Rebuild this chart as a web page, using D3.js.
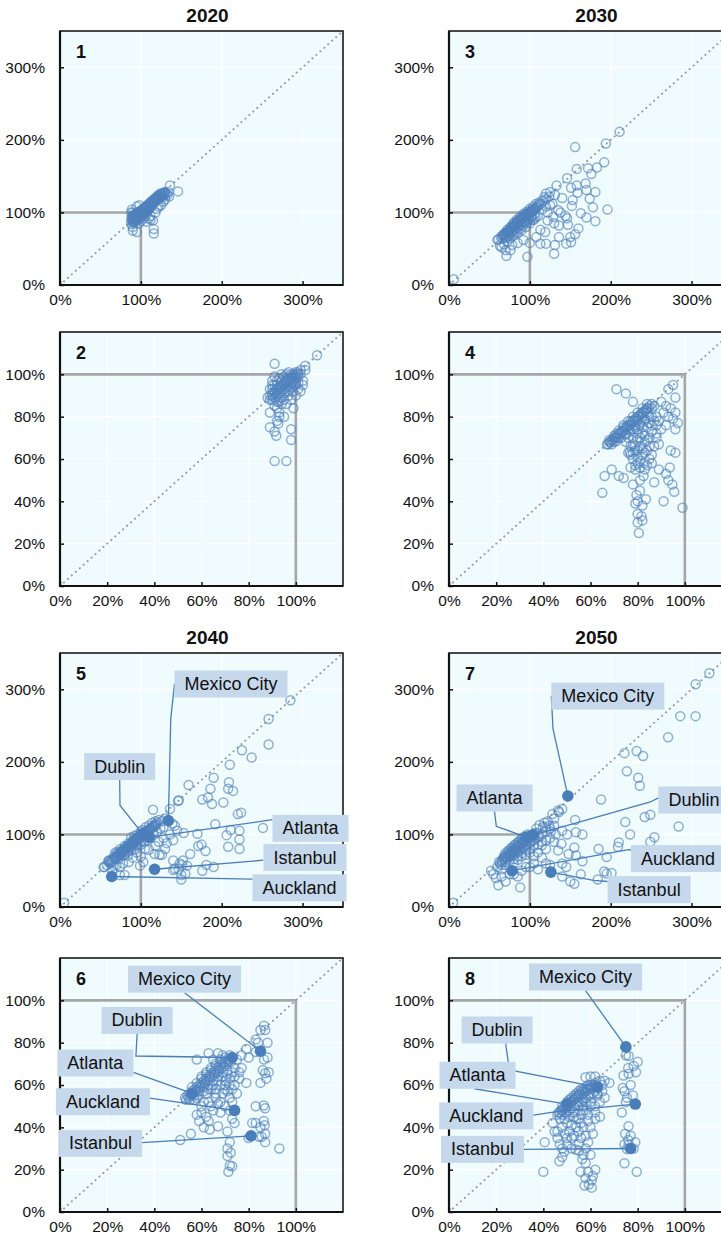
<!DOCTYPE html>
<html>
<head>
<meta charset="utf-8">
<script src="https://cdn.jsdelivr.net/npm/d3@7"></script>
<style>
  html, body { margin: 0; padding: 0; background: #fff; }
  svg { display: block; }
  text { font-family: "Liberation Sans Narrow", "Arial Narrow", "Liberation Sans", sans-serif; fill: #111; }
</style>
</head>
<body>
<div id="chart"></div>
<script>
// ---- Scale ticks -------------------------------------------------------
const ticksWide = [0, 100, 200, 300];          // panels on the 0–350 % range
const ticksNarrow = [0, 20, 40, 60, 80, 100];  // panels on the 0–120 % range

// ---- Highlighted cities --------------------------------------------------
const cityNames = ["Mexico City", "Dublin", "Atlanta", "Istanbul", "Auckland"];

// ---- Scatter values [x %, y %] -----------------------------------------
const pts2020Wide = [
  [88,90],[89,95],[90,92],[90,100],[91,88],[92,94],[93,97],[94,91],[95,99],[95,93],[96,96],[97,101],
  [97,94],[98,98],[99,95],[100,102],[100,97],[101,99],[102,104],[102,96],[103,101],[104,106],[104,99],
  [105,103],[106,108],[106,100],[107,105],[108,110],[108,102],[109,107],[110,112],[110,104],[111,109],
  [112,114],[113,111],[114,116],[115,112],[116,118],[117,114],[118,120],[119,117],[120,122],[121,118],
  [122,124],[123,120],[124,126],[125,122],[126,125],[127,121],[128,127],[129,124],[130,128],[131,126],
  [133,124],[134,128],[136,137],[146,129],[135,122],[88,84],[90,80],[92,86],[90,75],[95,73],[98,85],
  [100,88],[103,92],[105,95],[107,87],[110,92],[112,90],[115,89],[116,77],[116,71],[112,95],[118,100],
  [120,105],[122,108],[125,110],[128,115],[130,118],[88,100],[89,104],[95,108],[98,110],
  [89,92],[90,89],[91,94],[91,97],[92,91],[93,89],[93,95],[94,98],[95,91],[96,99],[96,93],[97,97],
  [98,95],[98,101],[99,99],[99,93],[100,100],[101,96],[101,103],[102,98],[103,105],[103,99],[104,102],
  [105,100],[105,106],[106,103],[107,108],[107,101],[108,106],[109,104],[109,110],[110,108],[111,106],
  [111,112],[112,110],[113,108],[113,114],[114,112],[115,115],[116,114],[117,117],[118,116],[119,120],
  [120,118],[121,121],[122,119],[123,123],[124,121],[125,125],[126,123],[127,126],[129,127],[90,86],
  [92,88],[94,89],[96,90],[98,92]
];
const pts2020Narrow = [
  [88,89],[89,90],[90,91],[90,88],[91,92],[91,89],[92,93],[92,90],[93,94],[93,91],[94,95],[94,92],
  [95,96],[95,93],[96,97],[96,94],[97,98],[97,95],[98,99],[98,96],[99,100],[99,97],[100,100],[100,98],
  [101,101],[101,99],[102,102],[102,100],[90,95],[92,97],[94,100],[96,100],[91,85],[93,87],[95,88],
  [97,90],[99,92],[100,95],[101,93],[92,84],[94,86],[96,86],[98,88],[89,93],[95,99],[97,101],[103,97],
  [101,96],[100,90],[93,82],[92,78],[95,80],[109,109],[104,104],[104,102],[91,105],[102,92],[99,84],
  [89,82],[89,75],[91,73],[91.7,71],[92.5,76.7],[93,80],[98,74],[98,69],[91,59],[96,59],[91,99],
  [90,97],[103,95],[97,92],
  [89,88],[90,90],[91,91],[92,92],[93,93],[94,94],[95,95],[96,96],[97,97],[98,98],[99,99],[100,99],
  [101,100],[90,93],[92,95],[94,97],[96,98],[98,100],[93,89],[95,91],[97,93],[99,95],[92,87],[94,89],
  [96,92],[98,94],[100,96],[91,95],[93,98],[100,101]
];
const pts2030Wide = [
  [6,8],[60,62],[66,68],[68,70],[70,72],[72,73],[74,75],[76,78],[78,80],[80,82],[82,84],[84,86],[86,88],
  [88,90],[90,92],[92,93],[94,95],[96,97],[98,99],[100,100],[102,102],[104,103],[106,105],[108,107],
  [110,110],[112,111],[114,112],[70,68],[74,70],[78,74],[82,78],[86,82],[90,86],[94,88],[98,92],
  [102,95],[106,98],[80,86],[84,90],[88,94],[92,98],[96,101],[100,105],[104,108],[108,112],[112,114],
  [116,116],[120,118],[118,121],[124,122],[115,104],[120,108],[125,110],[128,112],[122,100],[110,95],
  [105,90],[100,85],[95,80],[90,76],[85,72],[80,68],[75,64],[72,60],[68,56],[65,52],[70,48],[78,55],
  [85,58],[92,62],[100,58],[108,66],[113,57],[120,57],[113,76],[119,73],[122,89],[129,94],[135,103],
  [136,66],[131,55],[130,43],[97,39],[71,40],[76,48],[63,54],[61,63],[136,82],[146,92],[144,95],
  [147,83],[156,70],[150,66],[145,57],[151,59],[152,109],[163,99],[170,93],[181,88],[178,107],
  [196,104],[174,119],[153,117],[131,124],[120,126],[133,137],[146,147],[151,134],[158,137],[169,140],
  [181,128],[170,131],[159,127],[158,160],[172,161],[176,153],[183,162],[192,169],[156,190],[194,195],
  [211,211],[125,128],[140,120],[138,100],[130,85],[160,78],
  [64,66],[67,69],[69,71],[71,72],[73,74],[75,76],[77,78],[79,80],[81,82],[83,84],[85,86],[87,88],
  [89,90],[91,91],[93,93],[95,95],[97,97],[99,98],[101,100],[103,101],[105,103],[107,105],[109,107],
  [66,64],[69,66],[72,68],[75,71],[78,73],[81,76],[84,79],[87,82],[90,84],[93,86],[96,89],[99,91],
  [102,93],[72,76],[76,80],[80,84],[84,88],[88,92],[92,96],[96,99],[100,102],[104,105],[70,65],[74,67],
  [79,70],[83,73],[88,78],[92,82],[97,86],[103,90],[107,93]
];
const pts2030Narrow = [
  [67,67],[68,68],[69,69],[70,70],[71,70],[71,72],[72,72],[73,73],[74,73],[74,75],[75,75],[76,76],
  [77,76],[77,78],[78,78],[79,79],[80,80],[80,78],[81,81],[82,82],[82,80],[83,83],[84,84],[85,85],
  [84,82],[86,84],[72,70],[76,74],[79,76],[83,79],[70,68],[75,72],[78,74],[81,77],
  [95,95],[93,93],[71,93],[75,91],[78,87],[96,89],[92,85],[96,82],[93,80],[97,77],[96,74],[90,87],
  [88,80],[91,82],[94,84],[89,78],[92,76],[95,79],[87,85],[86,80],
  [80,74],[82,72],[84,75],[86,73],[88,72],[85,70],[83,68],[81,66],[79,64],[77,62],[76,63],[78,60],
  [80,61],[82,62],[84,64],[86,62],[83,58],[81,56],[79,57],[85,60],[87,66],[89,67],[94,64],[96,63],
  [77,56],[80,69],[78,67],[76,70],
  [69,55],[66,52],[65,44],[72,52],[74,51],[78,48],[81,50],[82.5,52],[81,45],[79.5,43],[79,39],[82,38],
  [83.5,41],[80,34],[81.6,33],[80,30],[82,31],[80.5,25],[87,49],[89,55],[92,53],[93,50],[94.7,48],
  [95.5,44.5],[93.6,56],[91,40],[99,37],[76.7,63.4],[80,40],
  [67.5,67],[68.5,68],[69.5,69],[70.5,70],[71.5,71],[72.5,72],[73.5,73],[74.5,74],[75.5,75],[76.5,76],
  [77.5,77],[78.5,78],[79.5,79],[80.5,80],[81.5,81],[82.5,82],[83.5,83],[84.5,84],[69,67],[71,68.5],
  [73,70],[75,71.5],[77,73],[79,75],[81,76],[83,78],[85,80],[68,69],[70,71],[72,73.5],[74,76],[76,78],
  [78,80],[80,82],[82,84],[84,86],[86,86],[75,68],[78,70],[80,72],[82,75],[85,77],[87,78],[83,71],
  [86,76],[88,76],[90,74],[84,69],[79,66],[82,65],[85,66],[88,70],[81,70],[77,66],[80,64],[83,63],
  [78,63],[81,59],[84,57],[86,58],[80,58],[79,55],[83,55]
];
const pts2040Wide = [
  [5,6],[55,55],[58,58],[60,62],[62,60],[65,64],[66,66],[68,68],[70,70],[72,72],[74,73],[75,75],[77,77],
  [79,78],[80,80],[82,82],[84,83],[86,85],[88,87],[90,89],[92,91],[94,93],[96,95],[98,97],[100,98],
  [104,102],[106,104],[108,105],[110,107],[112,109],[114,110],[116,112],[118,114],[120,116],[70,76],
  [75,80],[80,84],[85,88],[90,92],[95,96],[68,74],[72,66],[76,70],[80,72],[84,76],[88,78],[92,80],
  [96,84],[100,86],[104,90],[108,92],[112,96],[116,100],[120,104],[124,108],[128,110],[122,120],
  [126,118],[130,122],[115,134],[136,135],[146,146],[147,147],[159,168],[186,163],[190,178],[209,172],
  [208,163],[214,160],[176,148],[183,151],[188,142],[202,144],[210,196],[225,216],[237,206],[258,224],
  [258,259],[285,285],[192,114],[220,128],[224,130],[251,109],[222,105],[211,106],[206,99],[222,93],
  [208,83],[222,80],[170,101],[171,84],[175,86],[180,77],[161,73],[157,57],[176,50],[190,55],[148,60],
  [151,58],[147,52],[150,38],[140,51],[155,46],[139,115],[153,102],[140,64],[152,64],[142,53],[150,44],
  [181,58],[117,73],[123,72],[74,44],[80,44],[54,55],[60,64],[66,57],[74,55],[95,75],[84,71],[99,57],
  [110,79],[118,84],[136,100],[142,112],[128,95],[132,88],[122,90],[105,80],[100,70],[90,68],[85,62],
  [78,60],[70,58],[65,50],[130,80],[126,72],[140,92],[145,105],[103,62],
  [61,63],[63,65],[64,62],[67,69],[69,67],[71,73],[73,71],[73,75],[76,76],[76,74],[78,79],[78,76],
  [81,81],[81,79],[83,84],[83,81],[85,85],[85,83],[87,87],[87,84],[89,89],[89,86],[91,91],[91,88],
  [93,93],[93,90],[95,94],[95,91],[97,96],[97,93],[99,99],[99,95],[101,100],[101,97],[103,101],[103,98],
  [105,103],[107,102],[109,104],[111,106],[113,108],[115,110],[117,112],[119,113],[102,106],[106,110],
  [110,112],[114,116],[118,118],[88,96],[92,98],[96,100],[100,104],[75,72],[80,76],[86,80],[90,83],
  [95,86],[100,90],[108,97],[115,104]
];
const pts2040Narrow = [
  [53,54],[54,55],[55,56],[56,57],[57,58],[58,59],[59,60],[60,61],[61,62],[62,63],[63,64],[64,65],
  [65,66],[66,67],[67,68],[68,69],[69,70],[70,71],[71,72],[72,72],[55,53],[57,55],[59,57],[61,59],
  [63,60],[65,62],[67,64],[69,66],[71,67],[60,64],[62,66],[64,68],[66,70],[68,72],
  [58,72],[63,75],[67,75],[65,72],[69,74],[75,72],[77,68],[76,63],[72,63],[79,61],[74,60],[70,58],
  [66,56],[63,52],[60,50],[58,54],[68,52],[72,54],[65,48],[67,51],[62,45],[58,46],[59,43],[61,40],
  [63.5,39],[67,40.5],[71,38],[55.5,37],[51,34],[72,33],[71,30],[72.4,28],[71,26.4],[72,22],[73,21.6],
  [71.4,19],[73,44],[74,42],[70,60],[75,56],
  [87,86],[86.5,88],[85,86],[88,80],[84,80],[83,81.5],[79,77],[83,75.6],[88,73],[86.5,72],[86,67],
  [87,65.6],[88.5,66],[85,61],[87.5,63],[83,50],[86.4,50.3],[87,49],[83,42],[86.4,43],[86.8,41],
  [85,40],[81.5,42],[87,37],[85.5,35.5],[87,33],[84.4,35.5],[80,35],[93,30],[77,74],[80,73],
  [53.5,53],[54.5,54],[55.5,55],[56.5,56],[57.5,57],[58.5,58],[59.5,59],[60.5,60],[61.5,61],[62.5,62],
  [63.5,63],[64.5,64],[65.5,65],[66.5,66],[67.5,67],[68.5,68],[69.5,69],[70.5,70],[71.5,71],[72.5,71],
  [56,59],[58,61],[60,63],[62,65],[64,67],[66,69],[68,71],[70,73],[72,74],[57,53],[59,55],[61,57],
  [63,58],[65,60],[67,62],[69,64],[71,65],[73,66],[62,56],[64,58],[66,58],[68,60],[70,62],[72,60],
  [74,64],[74,68],[76,66],[66,54],[69,56],[71,57],[73,58],[61,52],[64,50],[70,50],[72,48],[68,47],
  [60,47],[63,43],[73,52]
];
const pts2050Wide = [
  [5,6],[62,62],[65,64],[68,66],[70,68],[72,70],[74,72],[76,74],[78,76],[80,78],[82,80],[84,82],[86,84],
  [88,86],[90,88],[92,90],[94,92],[96,94],[98,96],[100,98],[70,74],[74,78],[78,82],[82,86],[86,90],
  [90,94],[75,70],[80,72],[85,76],[90,80],[95,84],[100,88],[105,92],[110,96],[115,100],[120,104],
  [125,108],[130,112],[112,113],[118,116],[122,118],[128,128],[135,133],[140,135],[136,131],[188,148],
  [305,307],[322,322],[286,263],[305,263],[271,234],[217,212],[232,215],[240,208],[220,187],[234,178],
  [236,167],[218,117],[224,100],[242,124],[249,127],[284,111],[254,96],[249,90],[235,78],[210,89],
  [209,83],[185,80],[195,69],[201,47],[192,49],[195,46],[184,38],[155,32],[150,35],[140,42],[163,45],
  [157,71],[165,63],[148,73],[155,82],[139,87],[157,103],[165,100],[156,120],[130,122],[120,110],
  [61,30],[88,27],[52,50],[55,45],[58,40],[65,42],[70,35],[75,45],[60,55],[65,52],[70,58],[80,60],
  [85,65],[90,70],[95,72],[100,75],[105,70],[110,75],[115,68],[120,60],[125,58],[100,55],[110,52],
  [105,60],[95,55],[90,50],[85,42],[80,45],[130,90],[135,78],[140,60],[145,55],[120,80],[115,85],
  [125,95],
  [63,60],[66,62],[67,67],[69,70],[71,69],[73,73],[75,72],[77,77],[79,75],[81,81],[83,79],[85,85],
  [87,83],[89,89],[91,87],[93,93],[95,91],[97,97],[99,95],[101,99],[103,100],[105,101],[107,102],
  [93,97],[97,100],[89,93],[85,89],[81,85],[77,81],[73,77],[68,70],[72,66],[77,70],[82,74],[87,78],
  [92,82],[97,86],[102,90],[107,94],[112,98],[65,58],[70,62],[75,64],[80,66],[85,70],[90,74],[95,78],
  [100,80],[105,84],[110,86],[115,90],[120,92],[108,108],[116,110],[124,112],[126,104],[132,100],
  [140,105],[146,100]
];
const pts2050Narrow = [
  [46,46],[47,47],[48,48],[49,49],[50,50],[51,51],[52,52],[53,53],[54,54],[55,55],[56,55],[57,56],
  [58,57],[59,58],[60,58],[61,59],[62,59],[48,46],[50,47],[52,49],[54,51],[56,52],[58,54],[60,55],
  [51,53],[53,55],[55,57],[57,58],[59,60],
  [57.9,63.7],[64,62],[68,61],[60,64],[62,61],[65,57],[66,54],[64,52],[60,50],[58,48],[56,46],[54,44],
  [52,41],[55,44],[50,42],[48,40],[46,38],[44.8,38],[46,35],[40.6,33],[40,19],[46.8,24],[48,26],
  [48.8,28.5],[53.7,29.5],[56.5,25],[55.8,19],[57.9,16],[59.3,13],[60.5,11.5],[60.5,15],[62,20],
  [57.5,12.5],[52,35],[50,32],[55,38],[58,36],[60,40],[62,44],[62,47],[59,43],[53,45],[57,48],[47,44],
  [44,42],[49,37],[52,30],[55,32],[58,30],[60,27],[48,30],[64,45],
  [80,71],[76.2,73.7],[78.3,69],[79.3,66],[76.2,65.3],[74,64.5],[73.7,58.6],[74.4,57],[75.5,54],
  [75,52],[73.3,47],[76.1,40.5],[74.7,37],[74.4,32],[76.2,31.8],[75.5,29.8],[79,33],[78.3,30],
  [74.4,23],[79.6,19],[77,60],[76,68],[75,74],[78,55],[76,34],[77,36],
  [46.5,47],[47.5,48],[48.5,49],[49.5,50],[50.5,51],[51.5,52],[52.5,53],[53.5,54],[54.5,55],[55.5,56],
  [56.5,57],[57.5,57],[58.5,58],[59.5,59],[60.5,59],[61.5,60],[49,47],[51,48],[53,50],[55,52],[57,53],
  [59,55],[61,56],[48,50],[50,52],[52,54],[54,56],[56,58],[58,59],[60,60],[62,57],[63,56],[55,50],
  [57,50],[53,47],[51,45],[49,44],[58,52],[60,52],[62,50],[59,46],[56,42],[54,40],[57,40],[51,38],
  [53,36],[56,35],[59,33],[61,37],[50,35],[47,32],[55,29],[57,27],[58,23],[59,19],[61,17],[63,55],
  [65,60],[66,62],[62,64]
];

// City values, in cityNames order
const cities2040Wide   = [[134,119],[102,101],[110,96],[117,52],[64,42]];
const cities2040Narrow = [[85,76],[73,73],[56,56],[81,36],[74,48]];
const cities2050Wide   = [[147,153],[104,99],[96,96],[126,48],[78,50]];
const cities2050Narrow = [[75,78],[63,59],[50,51],[77,30],[79,51]];

// ---- Label placement (data units): box centre, leader start on the box, bends ----
const notes2040Wide = [
  {box:[211.5,307.3], anchor:[0,0.5],  via:[[137,259.6]]},
  {box:[73.8,193.5],  anchor:[0.5,1],  via:[[74.2,140]]},
  {box:[309.8,108.4], anchor:[0,0.18], via:[]},
  {box:[303,68.2],    anchor:[0,0.6],  via:[]},
  {box:[296.2,26.5],  anchor:[0,0.18], via:[]}
];
const notes2050Wide = [
  {box:[196.4,290.6], anchor:[0,0.5],  via:[[128.6,245.8]]},
  {box:[302.9,147.4], anchor:[0,0.42], via:[[249,144.7]]},
  {box:[56.3,150.2],  anchor:[0.5,1],  via:[[58.5,111.2]]},
  {box:[247.5,24],    anchor:[0,0.2],  via:[[178.8,36.8]]},
  {box:[283.2,66.7],  anchor:[0,0.18], via:[[222.1,79.1]]}
];
const notes2040Narrow = [
  {box:[52.8,110],  anchor:[0.5,1],  via:[]},
  {box:[32.7,90.5], anchor:[0.5,1],  via:[[32.2,73.7]]},
  {box:[15,70.4],   anchor:[1,0.85], via:[]},
  {box:[17.2,32.4], anchor:[1,0.47], via:[]},
  {box:[18.2,52.1], anchor:[1,0.37], via:[]}
];
const notes2050Narrow = [
  {box:[57.9,111],  anchor:[0.5,1],  via:[]},
  {box:[20.4,86],   anchor:[0.62,1], via:[[25.6,67.1]]},
  {box:[12.1,64.6], anchor:[0.46,1], via:[]},
  {box:[14.2,29.6], anchor:[1,0.5],  via:[]},
  {box:[15.8,45.4], anchor:[1,0.47], via:[[45.7,47.4]]}
];

// ---- Layout --------------------------------------------------------------
const W = 721, H = 1243;
const colX = [60, 449];
const rowY = [31, 332, 653, 958];
const PW = 283, PH = 254;

const panels = [
  {num:"1", title:"2020", col:0, row:0, wide:true,  pts:pts2020Wide},
  {num:"3", title:"2030", col:1, row:0, wide:true,  pts:pts2030Wide},
  {num:"2", col:0, row:1, wide:false, pts:pts2020Narrow},
  {num:"4", col:1, row:1, wide:false, pts:pts2030Narrow},
  {num:"5", title:"2040", col:0, row:2, wide:true,  pts:pts2040Wide,  cities:cities2040Wide,  notes:notes2040Wide},
  {num:"7", title:"2050", col:1, row:2, wide:true,  pts:pts2050Wide,  cities:cities2050Wide,  notes:notes2050Wide},
  {num:"6", col:0, row:3, wide:false, pts:pts2040Narrow, cities:cities2040Narrow, notes:notes2040Narrow},
  {num:"8", col:1, row:3, wide:false, pts:pts2050Narrow, cities:cities2050Narrow, notes:notes2050Narrow}
];

const BLUE = "#4f81bd";
const svg = d3.select("#chart").append("svg").attr("width", W).attr("height", H);
const defs = svg.append("defs");

panels.forEach((p, i) => {
  const left = colX[p.col], top = rowY[p.row];
  const max = p.wide ? 350 : 120;
  const ticks = p.wide ? ticksWide : ticksNarrow;
  const x = d3.scaleLinear().domain([0, max]).range([left, left + PW]);
  const y = d3.scaleLinear().domain([0, max]).range([top + PH, top]);
  const g = svg.append("g");

  defs.append("clipPath").attr("id", "clip" + i)
    .append("rect").attr("x", left).attr("y", top).attr("width", PW).attr("height", PH);

  // plot background and white grid
  g.append("rect").attr("x", left).attr("y", top).attr("width", PW).attr("height", PH)
    .attr("fill", "#effbfd");
  g.selectAll(".gx").data(ticks.filter(t => t > 0)).join("line")
    .attr("x1", d => x(d)).attr("x2", d => x(d)).attr("y1", top).attr("y2", top + PH)
    .attr("stroke", "#fff").attr("stroke-width", 1.2);
  g.selectAll(".gy").data(ticks.filter(t => t > 0)).join("line")
    .attr("y1", d => y(d)).attr("y2", d => y(d)).attr("x1", left).attr("x2", left + PW)
    .attr("stroke", "#fff").attr("stroke-width", 1.2);

  const inner = g.append("g").attr("clip-path", `url(#clip${i})`);

  // 100 % reference corner
  inner.append("path")
    .attr("d", `M${x(0)},${y(100)}H${x(100)}V${y(0)}`)
    .attr("fill", "none").attr("stroke", "#a6a6a6").attr("stroke-width", 2.6);

  // 45° line
  inner.append("line")
    .attr("x1", x(0)).attr("y1", y(0)).attr("x2", x(max)).attr("y2", y(max))
    .attr("stroke", "#999").attr("stroke-width", 2)
    .attr("stroke-dasharray", "0.1,5.2").attr("stroke-linecap", "round");

  // open markers
  inner.selectAll("circle.pt").data(p.pts).join("circle")
    .attr("class", "pt")
    .attr("cx", d => x(d[0])).attr("cy", d => y(d[1])).attr("r", 4.5)
    .attr("fill", "none").attr("stroke", BLUE).attr("stroke-width", 1.5)
    .attr("stroke-opacity", 0.62);

  // frame and axes
  g.append("rect").attr("x", left).attr("y", top).attr("width", PW).attr("height", PH)
    .attr("fill", "none").attr("stroke", "#1a1a1a").attr("stroke-width", 1.6);
  g.append("path").attr("d", `M${left},${top}V${top + PH}H${left + PW}`)
    .attr("fill", "none").attr("stroke", "#111").attr("stroke-width", 2.2);

  const fmt = d => d + "%";
  const ax = g.append("g").attr("transform", `translate(0,${top + PH})`)
    .call(d3.axisBottom(x).tickValues(ticks).tickFormat(fmt).tickSize(-4).tickPadding(9));
  const ay = g.append("g").attr("transform", `translate(${left},0)`)
    .call(d3.axisLeft(y).tickValues(ticks).tickFormat(fmt).tickSize(-4).tickPadding(15));
  [ax, ay].forEach(a => {
    a.select(".domain").remove();
    a.selectAll(".tick line").attr("stroke", "#111").attr("stroke-width", 1.5);
    a.selectAll("text").attr("font-size", 15.5).attr("fill", "#111")
      .style("font-family", '"Liberation Sans Narrow", "Arial Narrow", "Liberation Sans", sans-serif');
  });

  // panel number and year heading
  g.append("text").attr("x", left + 16).attr("y", top + 27)
    .attr("font-size", 18).attr("font-weight", "bold").text(p.num);
  if (p.title) {
    g.append("text").attr("x", left + PW / 2 + 6).attr("y", top - 9)
      .attr("text-anchor", "middle").attr("font-size", 19).attr("font-weight", "bold").text(p.title);
  }

  // highlighted cities with callouts
  if (p.cities) {
    const boxH = 27, padX = 10;
    const labels = g.append("g");
    const lead = g.append("g");
    const dots = g.append("g");
    p.notes.forEach((n, k) => {
      const cx = x(n.box[0]), cy = y(n.box[1]);
      const t = labels.append("text").attr("x", cx).attr("y", cy)
        .attr("text-anchor", "middle").attr("dominant-baseline", "central")
        .attr("font-size", 18).text(cityNames[k]);
      const tw = t.node().getComputedTextLength();
      const bw = tw + 2 * padX;
      const bx = cx - bw / 2, by = cy - boxH / 2;
      labels.insert("rect", "text").attr("x", bx).attr("y", by).attr("width", bw).attr("height", boxH)
        .attr("fill", "#c6d9ec");
      const pts = [[bx + n.anchor[0] * bw, by + n.anchor[1] * boxH]]
        .concat(n.via.map(v => [x(v[0]), y(v[1])]))
        .concat([[x(p.cities[k][0]), y(p.cities[k][1])]]);
      lead.append("path").attr("d", d3.line()(pts))
        .attr("fill", "none").attr("stroke", "#4a7ebb").attr("stroke-width", 1.3);
    });
    dots.selectAll("circle").data(p.cities).join("circle")
      .attr("cx", d => x(d[0])).attr("cy", d => y(d[1])).attr("r", 5.8)
      .attr("fill", "#4a7ebb");
    labels.raise();
  }
});
</script>
</body>
</html>
